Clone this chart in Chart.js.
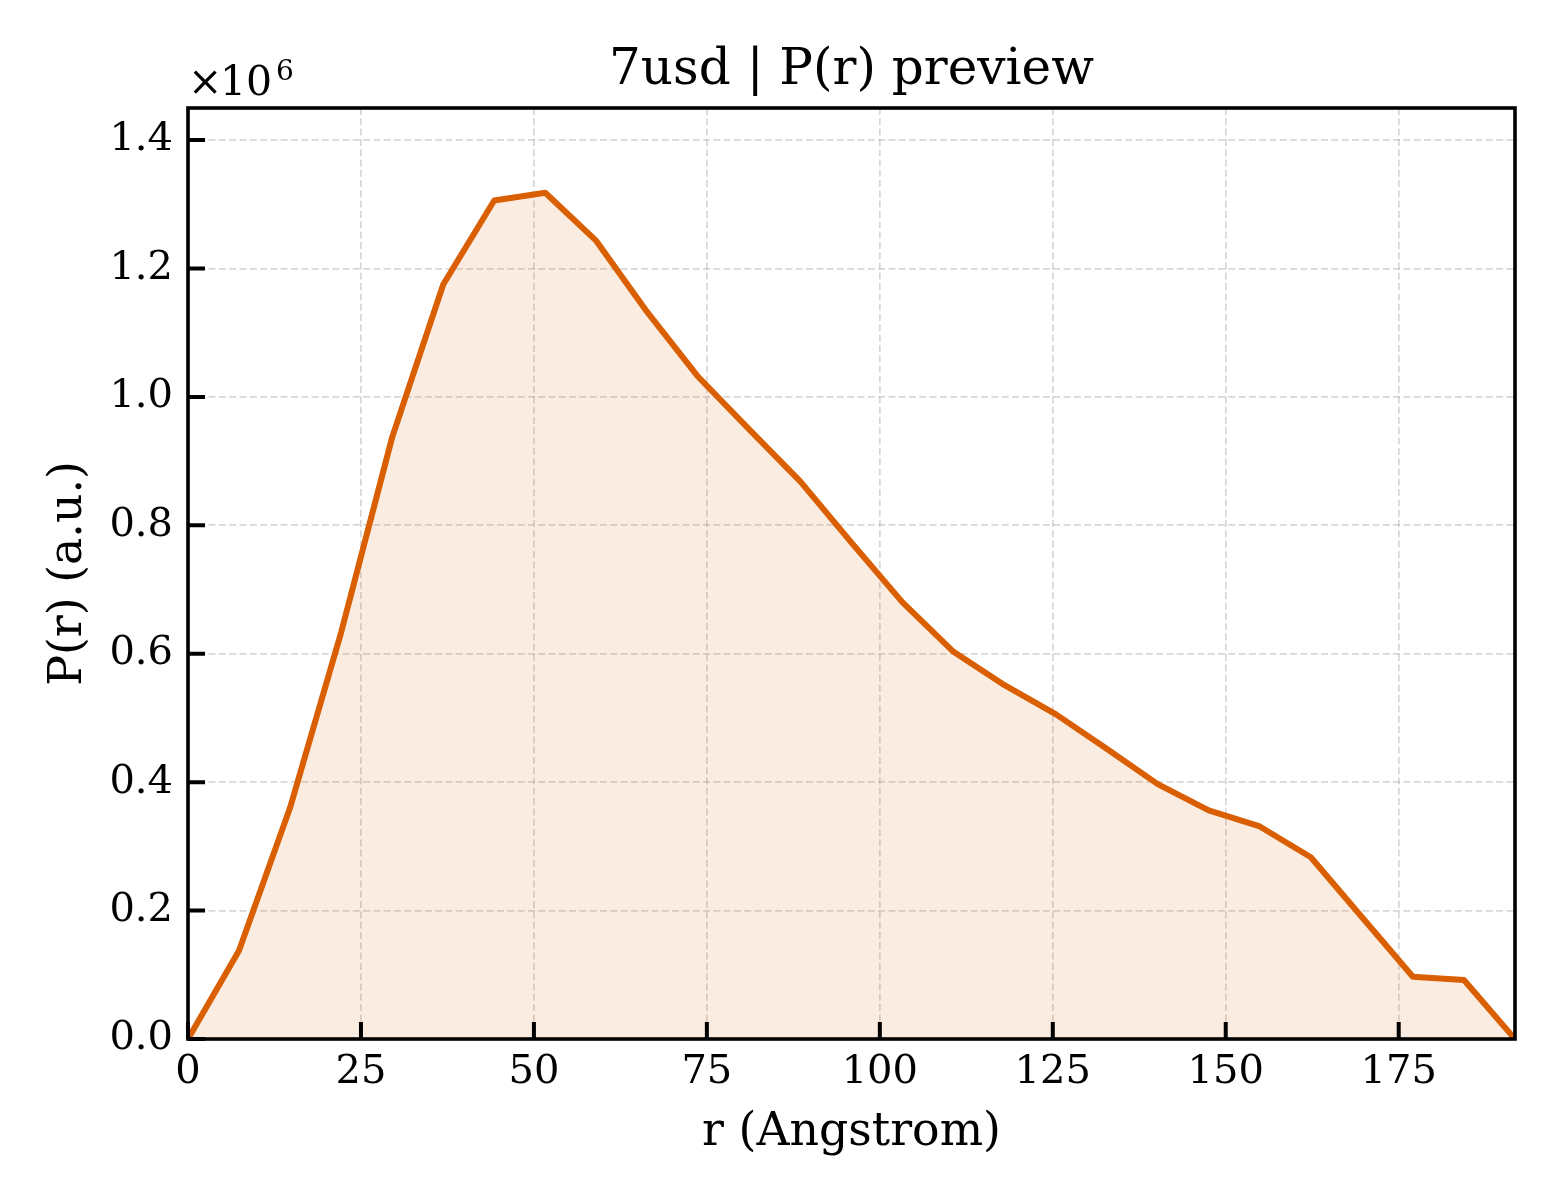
<!DOCTYPE html>
<html>
<head>
<meta charset="utf-8">
<title>7usd | P(r) preview</title>
<script src="https://cdn.jsdelivr.net/npm/chart.js@4.4.1/dist/chart.umd.min.js"></script>
<style>
  html, body { margin: 0; padding: 0; background: #fff; }
  canvas { display: block; }
</style>
</head>
<body>
<canvas id="prChart" width="1560" height="1200"></canvas>
<script>
// P(r) samples (values in units of 1e6)
const rAngstrom = [0, 7.38, 14.75, 22.13, 29.51, 36.89, 44.26, 51.64, 59.02, 66.39, 73.77,
  81.15, 88.53, 95.90, 103.28, 110.66, 118.03, 125.41, 132.79, 140.17, 147.54,
  154.92, 162.30, 169.67, 177.05, 184.43, 191.81];
const prMillions = [0, 0.138, 0.360, 0.633, 0.937, 1.175, 1.306, 1.318, 1.243, 1.132, 1.031,
  0.949, 0.868, 0.773, 0.680, 0.603, 0.551, 0.506, 0.452, 0.397, 0.356,
  0.331, 0.283, 0.190, 0.097, 0.092, 0];

const xTickValues = [0, 25, 50, 75, 100, 125, 150, 175];
const yTickValues = [0, 0.2, 0.4, 0.6, 0.8, 1.0, 1.2, 1.4];
const xMax = 191.81;
const yMax = 1.45;

const FONT = "'DejaVu Serif', 'Liberation Serif', serif";
const LINE_COLOR = '#d95f02';

document.addEventListener('DOMContentLoaded', function() {
  initPrChart();
});

// put text so that its ink starts at inkLeft
function fillAtInk(ctx, text, inkLeft, baseline) {
  const m = ctx.measureText(text);
  ctx.fillText(text, inkLeft + m.actualBoundingBoxLeft, baseline);
}

// Draws the frame, inward ticks and the text matplotlib would put around the axes
const framePlugin = {
  id: 'frame',
  afterDraw(chart) {
    const ctx = chart.ctx;
    const area = chart.chartArea;
    const xs = chart.scales.x;
    const ys = chart.scales.y;
    const tickLen = 17;

    ctx.save();
    ctx.strokeStyle = '#000';
    ctx.lineWidth = 4;

    ctx.beginPath();
    xTickValues.forEach(function(v) {
      const px = xs.getPixelForValue(v);
      ctx.moveTo(px, area.bottom);
      ctx.lineTo(px, area.bottom - tickLen);
    });
    yTickValues.forEach(function(v) {
      const py = ys.getPixelForValue(v);
      ctx.moveTo(area.left, py);
      ctx.lineTo(area.left + tickLen, py);
    });
    ctx.stroke();

    ctx.lineWidth = 3.6;
    ctx.strokeRect(area.left, area.top, area.right - area.left, area.bottom - area.top);

    const midX = (area.left + area.right) / 2;
    const midY = (area.top + area.bottom) / 2;
    ctx.fillStyle = '#000';
    ctx.textBaseline = 'alphabetic';

    // title
    ctx.textAlign = 'center';
    ctx.font = '50px ' + FONT;
    ctx.fillText('7usd | P(r) preview', midX, 84);

    // x label
    ctx.font = '45.8px ' + FONT;
    ctx.fillText('r (Angstrom)', midX, 1145);

    // y label
    ctx.save();
    ctx.translate(81, midY);
    ctx.rotate(-Math.PI / 2);
    ctx.fillText('P(r) (a.u.)', 0, 0);
    ctx.restore();

    // offset text: ×10^6
    ctx.textAlign = 'left';
    ctx.font = '41px ' + FONT;
    fillAtInk(ctx, '\u00d7', area.left + 5, 95);
    fillAtInk(ctx, '10', area.left + 37, 95);
    ctx.font = '28px ' + FONT;
    fillAtInk(ctx, '6', area.left + 89, 80);

    ctx.restore();
  }
};

let prChart;
function initPrChart() {
  const ctx = document.getElementById('prChart').getContext('2d');
  const points = rAngstrom.map(function(r, i) {
    return { x: r, y: prMillions[i] };
  });

  prChart = new Chart(ctx, {
    type: 'line',
    data: {
      datasets: [{
        label: 'P(r)',
        data: points,
        borderColor: LINE_COLOR,
        backgroundColor: 'rgba(217, 95, 2, 0.12)',
        borderWidth: 6,
        borderJoinStyle: 'round',
        pointRadius: 0,
        tension: 0,
        fill: 'origin'
      }]
    },
    options: {
      responsive: false,
      devicePixelRatio: 1,
      animation: false,
      layout: {
        padding: { left: 0, top: 108, right: 45, bottom: 0 }
      },
      plugins: {
        legend: { display: false },
        title: { display: false },
        tooltip: { enabled: false }
      },
      scales: {
        x: {
          type: 'linear',
          min: 0,
          max: xMax,
          afterBuildTicks: function(scale) {
            scale.ticks = xTickValues.map(function(v) { return { value: v }; });
          },
          afterFit: function(scale) {
            scale.height = 161;
          },
          grid: {
            color: 'rgba(176, 176, 176, 0.5)',
            lineWidth: 1.7,
            drawTicks: false
          },
          border: { display: false, dash: [7, 3.3] },
          ticks: {
            color: '#000',
            font: { family: FONT, size: 40 },
            padding: 10,
            maxRotation: 0,
            autoSkip: false,
            callback: function(v) { return String(v); }
          }
        },
        y: {
          type: 'linear',
          min: 0,
          max: yMax,
          afterBuildTicks: function(scale) {
            scale.ticks = yTickValues.map(function(v) { return { value: v }; });
          },
          afterFit: function(scale) {
            scale.width = 188;
          },
          grid: {
            color: 'rgba(176, 176, 176, 0.5)',
            lineWidth: 1.7,
            drawTicks: false
          },
          border: { display: false, dash: [7, 3.3] },
          ticks: {
            color: '#000',
            font: { family: FONT, size: 40 },
            padding: 15,
            autoSkip: false,
            callback: function(v) { return v.toFixed(1); }
          }
        }
      }
    },
    plugins: [framePlugin]
  });
}
</script>
</body>
</html>
